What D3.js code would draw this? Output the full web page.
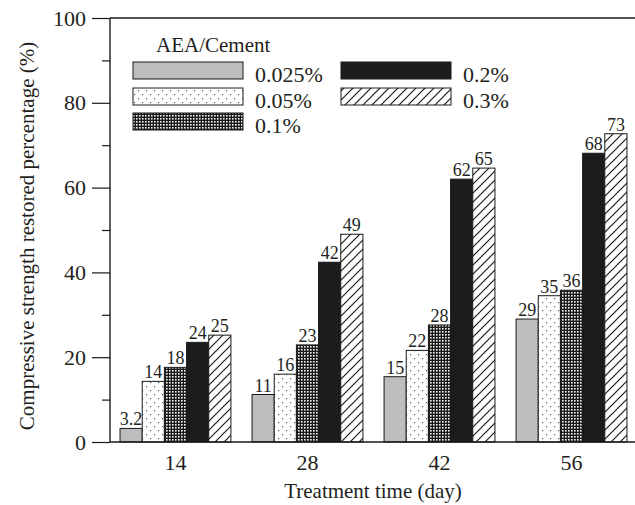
<!DOCTYPE html>
<html><head><meta charset="utf-8">
<script src="https://cdn.jsdelivr.net/npm/d3@7"></script>
<style>body{margin:0;background:#fff}svg{display:block}text{font-family:"Liberation Serif","Times New Roman",serif;fill:#231f20}</style>
</head><body>
<svg id="c" width="635" height="505"></svg>
<script>
const days = ["14", "28", "42", "56"];
const series = ["0.025%", "0.05%", "0.1%", "0.2%", "0.3%"];
const v0025 = [3.2, 11.2, 15.4, 29.0];
const v005 = [14.3, 16.0, 21.6, 34.5];
const v01 = [17.6, 22.9, 27.6, 35.8];
const v02 = [23.5, 42.4, 62.0, 68.1];
const v03 = [25.2, 49.0, 64.6, 72.7];
const lab0025 = ["3.2", "11", "15", "29"];
const lab005 = ["14", "16", "22", "35"];
const lab01 = ["18", "23", "28", "36"];
const lab02 = ["24", "42", "62", "68"];
const lab03 = ["25", "49", "65", "73"];
const yMajor = [0, 20, 40, 60, 80, 100];
const yMinor = [10, 30, 50, 70, 90];
const legendTitle = "AEA/Cement";
const xTitle = "Treatment time (day)";
const yTitle = "Compressive strength restored percentage (%)";

const values = [v0025, v005, v01, v02, v03];
const labels = [lab0025, lab005, lab01, lab02, lab03];
const fills = ["#bdbdbf", "url(#dots)", "url(#grid)", "#1c1c1c", "url(#hatch)"];

const svg = d3.select("#c");
const defs = svg.append("defs");
// dots
const pd = defs.append("pattern").attr("id","dots").attr("patternUnits","userSpaceOnUse").attr("width",8).attr("height",8);
pd.append("rect").attr("width",8).attr("height",8).attr("fill","#fff");
pd.append("rect").attr("x",2).attr("y",2).attr("width",1.2).attr("height",1.2).attr("fill","#555");
pd.append("rect").attr("x",6).attr("y",6).attr("width",1.2).attr("height",1.2).attr("fill","#555");
// grid
const pg = defs.append("pattern").attr("id","grid").attr("patternUnits","userSpaceOnUse").attr("width",3).attr("height",3);
pg.append("rect").attr("width",3).attr("height",3).attr("fill","#1a1a1a");
pg.append("rect").attr("x",1).attr("y",1).attr("width",1.6).attr("height",1.6).attr("fill","#f4f4f4");
// hatch
const ph = defs.append("pattern").attr("id","hatch").attr("patternUnits","userSpaceOnUse").attr("width",9).attr("height",9);
ph.append("rect").attr("width",9).attr("height",9).attr("fill","#fff");
ph.append("path").attr("d","M-1,1 L1,-1 M0,9 L9,0 M8,10 L10,8").attr("stroke","#1a1a1a").attr("stroke-width",1.2);

const mLeft = 110, mTop = 18, mBottom = 442;
const y = d3.scaleLinear().domain([0, 100]).range([mBottom, mTop]);
const x0 = d3.scaleBand().domain(days).range([mLeft, 637]).paddingInner(0.16).paddingOuter(0.076);
const x1 = d3.scaleBand().domain(series).range([0, x0.bandwidth()]);

// bars
const g = svg.append("g");
series.forEach((s, si) => {
  days.forEach((d, di) => {
    const val = values[si][di];
    g.append("rect")
      .attr("x", x0(d) + x1(s))
      .attr("y", y(val))
      .attr("width", x1.bandwidth())
      .attr("height", y(0) - y(val))
      .attr("fill", fills[si])
      .attr("stroke", "#1a1a1a").attr("stroke-width", 1);
    g.append("text")
      .attr("x", x0(d) + x1(s) + x1.bandwidth() / 2)
      .attr("y", y(val) - 3)
      .attr("text-anchor", "middle")
      .attr("font-size", 18)
      .text(labels[si][di]);
  });
});

// y axis
const yAxis = d3.axisLeft(y).tickValues(yMajor).tickSize(18).tickPadding(6).tickFormat(d3.format("d"));
const ya = svg.append("g").attr("transform", `translate(${mLeft},0)`).call(yAxis);
ya.select(".domain").remove();
ya.selectAll("line").attr("stroke", "#1a1a1a").attr("stroke-width", 1.2);
ya.selectAll("text").attr("font-size", 22).attr("font-family", '"Liberation Serif",serif').attr("fill", "#231f20");
const yAxisMinor = d3.axisLeft(y).tickValues(yMinor).tickSize(8).tickFormat("");
const ym = svg.append("g").attr("transform", `translate(${mLeft},0)`).call(yAxisMinor);
ym.select(".domain").remove();
ym.selectAll("line").attr("stroke", "#1a1a1a").attr("stroke-width", 1.2);
svg.append("line").attr("x1", mLeft).attr("x2", mLeft).attr("y1", y(100)).attr("y2", y(0)).attr("stroke", "#1a1a1a").attr("stroke-width", 1.4);
// frame lines top and bottom
svg.append("line").attr("x1", mLeft).attr("x2", 635).attr("y1", y(100)).attr("y2", y(100)).attr("stroke", "#1a1a1a").attr("stroke-width", 1.4);
svg.append("line").attr("x1", mLeft).attr("x2", 635).attr("y1", y(0)).attr("y2", y(0)).attr("stroke", "#1a1a1a").attr("stroke-width", 1.4);

// x axis labels
const xAxis = d3.axisBottom(x0).tickSize(0).tickPadding(12);
const xa = svg.append("g").attr("transform", `translate(0,${mBottom})`).call(xAxis);
xa.select(".domain").remove();
xa.selectAll("text").attr("font-size", 22).attr("font-family", '"Liberation Serif",serif').attr("fill", "#231f20");

// titles
svg.append("text").attr("x", 373).attr("y", 498).attr("text-anchor", "middle").attr("font-size", 21).text(xTitle);
svg.append("text").attr("transform", "translate(34,236) rotate(-90)").attr("text-anchor", "middle").attr("font-size", 21).text(yTitle);

// legend
svg.append("text").attr("x", 156).attr("y", 52).attr("font-size", 21).text(legendTitle);
const legPos = [[133, 62], [133, 88], [133, 113], [341, 62], [341, 88]];
series.forEach((s, si) => {
  const [lx, ly] = legPos[si];
  svg.append("rect").attr("x", lx).attr("y", ly).attr("width", 110).attr("height", 17)
    .attr("fill", fills[si]).attr("stroke", "#1a1a1a").attr("stroke-width", 1);
  svg.append("text").attr("x", lx + 122).attr("y", ly + 20).attr("font-size", 22).text(s);
});
</script>
</body></html>
